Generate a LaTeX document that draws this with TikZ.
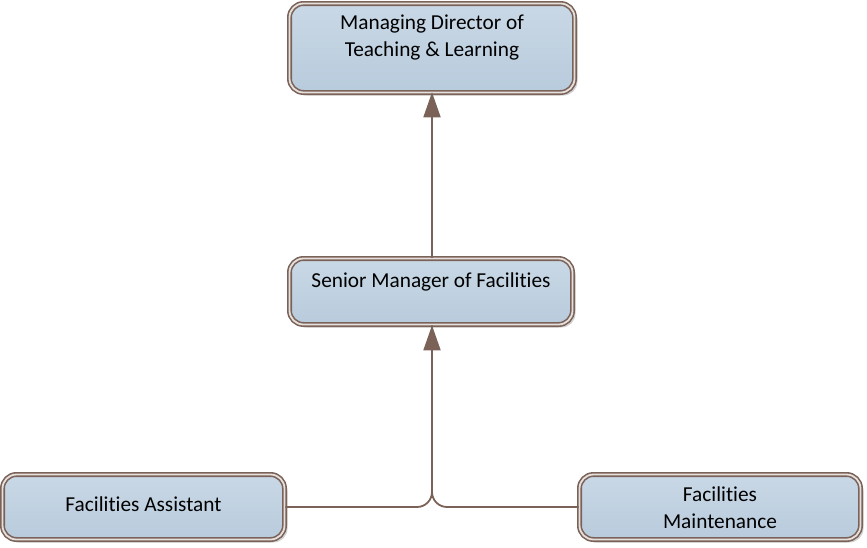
\documentclass[tikz,border=0pt]{standalone}
\usepackage{fontspec}
\setmainfont{Carlito}[RawFeature={-liga;-clig;-dlig}]
\usetikzlibrary{arrows.meta,shadows}
\definecolor{conncol}{HTML}{7B6259}
\definecolor{boxtop}{HTML}{C9D8E6}
\definecolor{boxbot}{HTML}{B8CBDC}
\definecolor{gapcol}{HTML}{E6E0DD}
\tikzset{
  orgbox/.style={rectangle, rounded corners=14pt, draw=conncol, line width=1.6pt,
    double=gapcol, double distance=1.8pt, top color=boxtop, bottom color=boxbot,
    drop shadow={shadow xshift=3pt, shadow yshift=-3pt, opacity=0.35, fill=gray},
    inner sep=0pt, font=\fontsize{21.3}{27}\selectfont},
  conn/.style={draw=conncol, line width=1.8pt},
  tip/.style={-{Triangle[width=17pt,length=25pt]}}
}
\begin{document}
\begin{tikzpicture}[x=1pt,y=1pt]
\useasboundingbox (0,0) rectangle (867,-547);
\node[orgbox, minimum width=285pt, minimum height=89pt, text height=47pt, text depth=31pt] (MD) at (432,-48)
  {\begin{tabular}[b]{@{}c@{}}Managing Director of\\Teaching \& Learning\end{tabular}};
\node[orgbox, minimum width=283pt, minimum height=66pt, text height=18pt, text depth=27pt] (SM) at (431,-291.5)
  {Senior Manager of Facilities};
\node[orgbox, minimum width=282pt, minimum height=65pt, text height=19pt, text depth=11pt] (FA) at (143.5,-507)
  {Facilities Assistant};
\node[orgbox, minimum width=281pt, minimum height=65pt, text height=48pt, text depth=5pt] (FM) at (720,-507)
  {\begin{tabular}[b]{@{}c@{}}Facilities\\Maintenance\end{tabular}};
\coordinate (J) at ([xshift=1pt]SM.south |- FA.east);
\draw[conn, tip] ([xshift=1pt]SM.north) -- ([xshift=1pt,yshift=1pt]SM.north |- MD.south);
\draw[conn, rounded corners=15pt] (FM.west) -- (J) -- ([xshift=1pt]SM.south);
\draw[conn, tip, rounded corners=15pt] (FA.east) -- (J) -- ([xshift=1pt]SM.south);
\end{tikzpicture}
\end{document}
